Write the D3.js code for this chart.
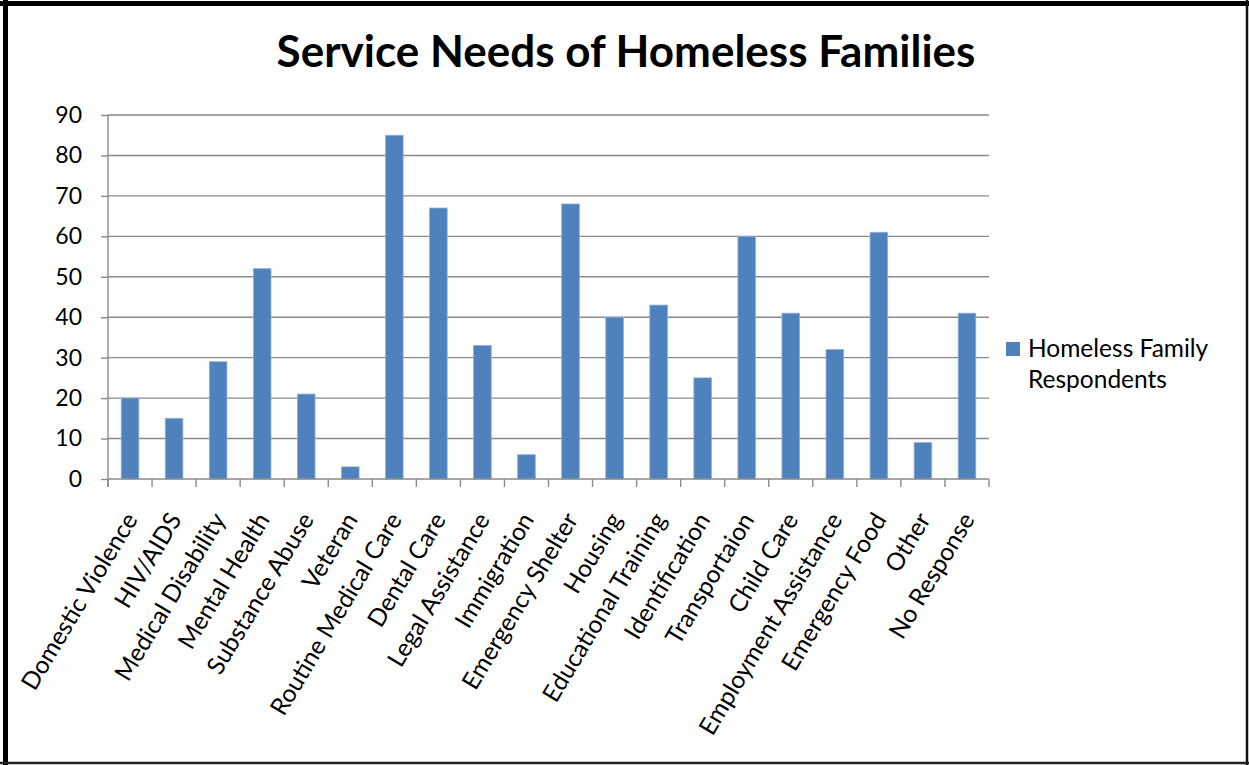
<!DOCTYPE html>
<html>
<head>
<meta charset="utf-8">
<script src="https://cdn.jsdelivr.net/npm/d3@7"></script>
<style>
  html, body { margin: 0; padding: 0; background: #fff; }
  svg { display: block; }
  text { font-family: Lato, "Open Sans", sans-serif; fill: #000; }
</style>
</head>
<body>
<svg id="chart" width="1249" height="765"></svg>
<script>
// Survey categories and respondent counts
const categories = [
  "Domestic Violence", "HIV/AIDS", "Medical Disability", "Mental Health",
  "Substance Abuse", "Veteran", "Routine Medical Care", "Dental Care",
  "Legal Assistance", "Immigration", "Emergency Shelter", "Housing",
  "Educational Training", "Identification", "Transportaion", "Child Care",
  "Employment Assistance", "Emergency Food", "Other", "No Response"
];
const respondents = [20, 15, 29, 52, 21, 3, 85, 67, 33, 6, 68, 40, 43, 25, 60, 41, 32, 61, 9, 41];
const yTicks = [0, 10, 20, 30, 40, 50, 60, 70, 80, 90];
const seriesName = ["Homeless Family", "Respondents"];
const chartTitle = "Service Needs of Homeless Families";

const W = 1249, H = 765;
const svg = d3.select("#chart");

// Frame around the whole chart
svg.append("rect").attr("width", W).attr("height", H).attr("fill", "#fff");
svg.append("line").attr("x1", 0).attr("x2", W).attr("y1", 3.5).attr("y2", 3.5)
  .attr("stroke", "#000").attr("stroke-width", 5);
svg.append("line").attr("x1", 5.5).attr("x2", 5.5).attr("y1", 0).attr("y2", H)
  .attr("stroke", "#000").attr("stroke-width", 5);
svg.append("line").attr("x1", 1247).attr("x2", 1247).attr("y1", 0).attr("y2", H)
  .attr("stroke", "#111").attr("stroke-width", 2.5);
svg.append("line").attr("x1", 0).attr("x2", W).attr("y1", 763).attr("y2", 763)
  .attr("stroke", "#222").attr("stroke-width", 2.5);

const plot = { left: 108, right: 989, top: 115, bottom: 479 };

const x = d3.scaleBand().domain(categories)
  .range([plot.left, plot.right]).paddingInner(0.6).paddingOuter(0.3);
const xStep = d3.scaleBand().domain(categories).range([plot.left, plot.right]);
const y = d3.scaleLinear().domain([0, 90]).range([plot.bottom, plot.top]);

// Horizontal gridlines
svg.append("g").selectAll("line").data(yTicks.filter(d => d > 0)).join("line")
  .attr("x1", plot.left).attr("x2", plot.right)
  .attr("y1", d => y(d)).attr("y2", d => y(d))
  .attr("stroke", "#8a8a8a").attr("stroke-width", 1.4);

// Bars
svg.append("g").selectAll("rect").data(respondents).join("rect")
  .attr("x", (d, i) => x(categories[i]))
  .attr("width", x.bandwidth())
  .attr("y", d => y(d))
  .attr("height", d => y(0) - y(d))
  .attr("fill", "#4f81bd")
  .attr("stroke", "#8fb0da").attr("stroke-width", 0.8);

// Y axis
const yAxis = svg.append("g").attr("transform", `translate(${plot.left},0)`)
  .call(d3.axisLeft(y).tickValues(yTicks).tickSize(7).tickPadding(19));
yAxis.select(".domain").attr("d", `M0,${plot.top}V${plot.bottom + 8}`)
  .attr("stroke", "#8a8a8a").attr("stroke-width", 1.4);
yAxis.selectAll(".tick line").attr("stroke", "#8a8a8a").attr("stroke-width", 1.4);
yAxis.selectAll(".tick text")
  .style("font-family", "Lato, sans-serif").style("font-size", "23px").attr("fill", "#1a1a1a");

// X axis: baseline and ticks at category boundaries
const xg = svg.append("g");
xg.append("line").attr("x1", plot.left).attr("x2", plot.right)
  .attr("y1", y(0)).attr("y2", y(0)).attr("stroke", "#8a8a8a").attr("stroke-width", 1.4);
const boundaries = categories.map(c => xStep(c)).concat([plot.right]);
xg.selectAll("line.tick").data(boundaries).join("line").attr("class", "tick")
  .attr("x1", d => d).attr("x2", d => d)
  .attr("y1", y(0)).attr("y2", y(0) + 8)
  .attr("stroke", "#8a8a8a").attr("stroke-width", 1.4);

// Rotated category labels, each ending just under its category
xg.selectAll("text").data(categories).join("text")
  .attr("transform", d => {
    const cx = xStep(d) + xStep.bandwidth() / 2;
    return `translate(${cx + 1},${515}) rotate(-59)`;
  })
  .attr("text-anchor", "end")
  .attr("dy", "0.35em")
  .style("font-size", "24.5px").attr("fill", "#1a1a1a")
  .text(d => d);

// Title
svg.append("text")
  .attr("x", 626).attr("y", 67)
  .attr("text-anchor", "middle")
  .style("font-size", "44px").style("font-weight", "bold")
  .text(chartTitle);

// Legend
const lg = svg.append("g");
lg.append("rect").attr("x", 1006).attr("y", 342).attr("width", 14).attr("height", 14)
  .attr("fill", "#4f81bd");
lg.selectAll("text").data(seriesName).join("text")
  .attr("x", 1028).attr("y", (d, i) => 357 + i * 31)
  .style("font-size", "24.5px").attr("fill", "#1a1a1a")
  .text(d => d);
</script>
</body>
</html>
